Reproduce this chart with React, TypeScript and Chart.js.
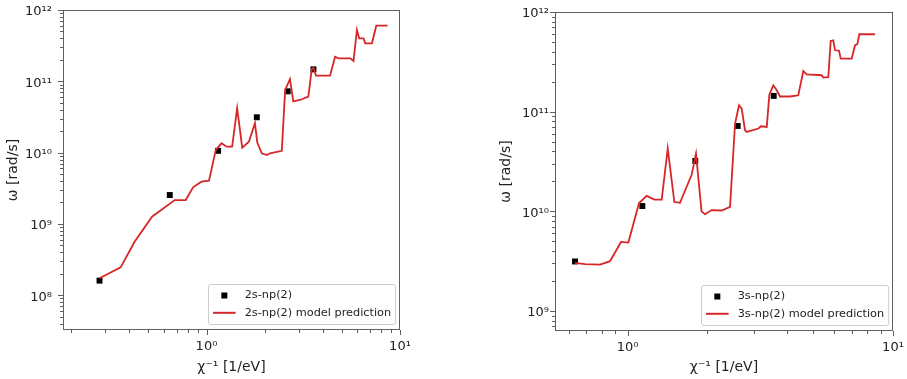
import React, { useEffect, useRef } from "react";
import { Chart, registerables } from "chart.js";

Chart.register(...registerables);

// ---------- data: left panel (2s-np(2)) ----------
const leftObsLabel = "2s-np(2)";
const leftPredLabel = "2s-np(2) model prediction";
const leftObsX = [0.28, 0.646, 1.148, 1.82, 2.63, 3.57];
const leftObsY = [1.6e8, 2.54e9, 1.06e10, 3.13e10, 7.24e10, 1.47e11];
const leftPredX = [
  0.28, 0.36, 0.425, 0.523, 0.685, 0.781, 0.852, 0.942, 1.03, 1.117, 1.196,
  1.27, 1.357, 1.44, 1.53, 1.656, 1.78, 1.83, 1.93, 2.05, 2.13, 2.45, 2.55,
  2.7, 2.81, 3.04, 3.36, 3.5, 3.57, 3.68, 4.35, 4.62, 4.81, 5.53, 5.75, 5.99,
  6.15, 6.48, 6.61, 7.16, 7.54, 8.62,
];
const leftPredY = [
  1.73e8, 2.46e8, 5.62e8, 1.26e9, 2.16e9, 2.16e9, 3.26e9, 3.91e9, 4.03e9,
  1.09e10, 1.35e10, 1.21e10, 1.21e10, 4.18e10, 1.17e10, 1.42e10, 2.58e10,
  1.38e10, 9.78e9, 9.26e9, 9.78e9, 1.06e10, 7.55e10, 1.07e11, 5.21e10,
  5.47e10, 6.08e10, 1.49e11, 1.55e11, 1.2e11, 1.2e11, 2.21e11, 2.1e11,
  2.1e11, 1.93e11, 5.24e11, 4.01e11, 4.01e11, 3.41e11, 3.41e11, 6.02e11,
  6.02e11,
];
const leftYTickValues = [1e8, 1e9, 1e10, 1e11, 1e12];
const leftYTickLabels = ["10⁸", "10⁹", "10¹⁰", "10¹¹", "10¹²"];

// ---------- data: right panel (3s-np(2)) ----------
const rightObsLabel = "3s-np(2)";
const rightPredLabel = "3s-np(2) model prediction";
const rightObsX = [0.634, 1.137, 1.8, 2.6, 3.553];
const rightObsY = [3.14e9, 1.13e10, 3.2e10, 7.19e10, 1.44e11];
const rightPredX = [
  0.634, 0.692, 0.788, 0.859, 0.945, 1.007, 1.105, 1.181, 1.262, 1.345, 1.417,
  1.501, 1.576, 1.745, 1.811, 1.9, 1.958, 2.075, 2.264, 2.433, 2.541, 2.63,
  2.692, 2.771, 2.812, 3.11, 3.183, 3.345, 3.421, 3.541, 3.648, 3.753, 4.093,
  4.398, 4.593, 4.731, 5.389, 5.464, 5.705, 5.825, 5.958, 6.047, 6.26, 6.353,
  6.99, 7.194, 7.338, 7.467, 8.554,
];
const rightPredY = [
  3.04e9, 2.95e9, 2.92e9, 3.16e9, 4.93e9, 4.86e9, 1.21e10, 1.43e10, 1.31e10,
  1.31e10, 4.26e10, 1.24e10, 1.22e10, 2.34e10, 3.8e10, 1.0e10, 9.35e9,
  1.03e10, 1.02e10, 1.11e10, 7.6e10, 1.16e11, 1.07e11, 6.5e10, 6.26e10,
  6.77e10, 7.14e10, 7.03e10, 1.48e11, 1.84e11, 1.64e11, 1.42e11, 1.42e11,
  1.46e11, 2.56e11, 2.37e11, 2.32e11, 2.2e11, 2.22e11, 5.12e11, 5.2e11,
  4.13e11, 4.1e11, 3.41e11, 3.41e11, 4.64e11, 4.75e11, 5.98e11, 5.98e11,
];
const rightYTickValues = [1e9, 1e10, 1e11, 1e12];
const rightYTickLabels = ["10⁹", "10¹⁰", "10¹¹", "10¹²"];

// ---------- shared ----------
const xTickValues = [1, 10];
const xTickLabels = ["10⁰", "10¹"];
const yTitle = "ω [rad/s]";
const xTitle = "χ⁻¹ [1/eV]";

const FONT = '"DejaVu Sans", "Noto Sans", sans-serif';
const AXIS_COLOR = "#5e5e5e";
const TEXT_COLOR = "#222222";
const LINE_COLOR = "#d62728";
const H = 379;

function minorTicks(min: number, max: number, majors: number[]) {
  const out: { value: number; major: boolean }[] = [];
  const d0 = Math.floor(Math.log10(min));
  const d1 = Math.ceil(Math.log10(max));
  for (let d = d0; d <= d1; d++) {
    for (let m = 1; m <= 9; m++) {
      const v = m * Math.pow(10, d);
      if (v >= min * 0.9999 && v <= max * 1.0001) {
        const isMajor = majors.some((t) => Math.abs(t - v) / t < 1e-6);
        out.push({ value: v, major: isMajor });
      }
    }
  }
  return out;
}

function labelFor(values: number[], labels: string[], v: number) {
  const i = values.findIndex((t) => Math.abs(t - v) / t < 1e-6);
  return i >= 0 ? labels[i] : "";
}

const decorPlugin = {
  id: "decor",
  afterDraw(chart: any) {
    const ctx = chart.ctx as CanvasRenderingContext2D;
    const a = chart.chartArea;
    ctx.save();
    ctx.strokeStyle = AXIS_COLOR;
    ctx.lineWidth = 1;
    // tick marks (outward)
    const xs = chart.scales.x;
    const ys = chart.scales.y;
    ctx.beginPath();
    for (const t of xs.ticks) {
      const p = Math.round(xs.getPixelForValue(t.value)) + 0.5;
      const len = t.major ? 5 : 3;
      ctx.moveTo(p, Math.round(a.bottom));
      ctx.lineTo(p, Math.round(a.bottom) + len);
    }
    for (const t of ys.ticks) {
      const p = Math.round(ys.getPixelForValue(t.value)) + 0.5;
      const len = t.major ? 5 : 3;
      ctx.moveTo(Math.round(a.left), p);
      ctx.lineTo(Math.round(a.left) - len, p);
    }
    ctx.stroke();
    // frame
    const l = Math.round(a.left) + 0.5;
    const tp = Math.round(a.top) + 0.5;
    const r = Math.round(a.right) - 0.5;
    const b = Math.round(a.bottom) - 0.5;
    ctx.strokeRect(l, tp, r - l, b - tp);

    // legend (lower right)
    const ds = chart.data.datasets;
    const obs = ds[0];
    const pred = ds[1];
    const fs = 11.3;
    ctx.font = `${fs}px ${FONT}`;
    const textW = Math.max(
      ctx.measureText(obs.label).width,
      ctx.measureText(pred.label).width
    );
    const pad = 0.4 * fs;
    const handleLen = 2 * fs;
    const textPad = 0.8 * fs;
    const W = pad + handleLen + textPad + textW + pad;
    const LH = 40;
    const x0 = Math.round(a.right - 5 - W) + 0.5;
    const y0 = Math.round(a.bottom - 6 - LH) + 0.5;
    ctx.beginPath();
    const rr = 2.5;
    ctx.moveTo(x0 + rr, y0);
    ctx.lineTo(x0 + W - rr, y0);
    ctx.arcTo(x0 + W, y0, x0 + W, y0 + rr, rr);
    ctx.lineTo(x0 + W, y0 + LH - rr);
    ctx.arcTo(x0 + W, y0 + LH, x0 + W - rr, y0 + LH, rr);
    ctx.lineTo(x0 + rr, y0 + LH);
    ctx.arcTo(x0, y0 + LH, x0, y0 + LH - rr, rr);
    ctx.lineTo(x0, y0 + rr);
    ctx.arcTo(x0, y0, x0 + rr, y0, rr);
    ctx.closePath();
    ctx.fillStyle = "rgba(255,255,255,0.8)";
    ctx.fill();
    ctx.strokeStyle = "#cccccc";
    ctx.stroke();

    const row1 = y0 + 11;
    const row2 = y0 + 28.3;
    const hx = x0 + pad;
    // marker
    ctx.fillStyle = obs.backgroundColor;
    ctx.fillRect(hx + handleLen / 2 - 3, row1 - 3, 6, 6);
    // line sample
    ctx.strokeStyle = pred.borderColor;
    ctx.lineWidth = 2;
    ctx.beginPath();
    ctx.moveTo(hx, row2);
    ctx.lineTo(hx + handleLen, row2);
    ctx.stroke();
    // texts
    ctx.fillStyle = TEXT_COLOR;
    ctx.textBaseline = "middle";
    ctx.textAlign = "left";
    const tx = hx + handleLen + textPad;
    ctx.fillText(obs.label, tx, row1);
    ctx.fillText(pred.label, tx, row2);
    ctx.restore();
  },
};

type PanelSpec = {
  obsLabel: string;
  predLabel: string;
  obsX: number[];
  obsY: number[];
  predX: number[];
  predY: number[];
  yTickValues: number[];
  yTickLabels: string[];
  xMin: number;
  xMax: number;
  yMin: number;
  yMax: number;
  width: number;
  areaLeft: number;
  areaRight: number;
  areaTop: number;
  areaBottom: number;
  yTickPad: number;
  yTitleOffset: number;
};

function buildConfig(s: PanelSpec): any {
  const toPts = (xs: number[], ys: number[]) =>
    xs.map((x, i) => ({ x, y: ys[i] }));
  return {
    type: "scatter",
    data: {
      datasets: [
        {
          label: s.obsLabel,
          data: toPts(s.obsX, s.obsY),
          pointStyle: "rect",
          pointRadius: 4.2,
          pointBorderWidth: 0,
          borderWidth: 0,
          backgroundColor: "#000000",
          borderColor: "#000000",
          showLine: false,
          order: 2,
        },
        {
          label: s.predLabel,
          data: toPts(s.predX, s.predY),
          showLine: true,
          pointRadius: 0,
          borderWidth: 1.8,
          borderColor: LINE_COLOR,
          backgroundColor: LINE_COLOR,
          tension: 0,
          order: 1,
        },
      ],
    },
    options: {
      responsive: false,
      maintainAspectRatio: false,
      devicePixelRatio: 1,
      animation: false,
      events: [],
      layout: {
        padding: {
          left: 0,
          top: s.areaTop,
          right: s.width - s.areaRight,
          bottom: 0,
        },
      },
      plugins: {
        legend: { display: false },
        tooltip: { enabled: false },
        title: { display: false },
      },
      scales: {
        x: {
          type: "logarithmic",
          position: "bottom",
          min: s.xMin,
          max: s.xMax,
          bounds: "data",
          grid: { display: false, drawTicks: false, drawOnChartArea: false },
          border: { display: false },
          afterBuildTicks: (sc: any) => {
            sc.ticks = minorTicks(s.xMin, s.xMax, xTickValues);
          },
          afterFit: (sc: any) => {
            sc.height = H - s.areaBottom;
            sc.paddingLeft = 0;
            sc.paddingRight = 0;
          },
          ticks: {
            autoSkip: false,
            maxRotation: 0,
            minRotation: 0,
            padding: 9,
            color: TEXT_COLOR,
            font: { family: FONT, size: 13 },
            callback: (v: number) => labelFor(xTickValues, xTickLabels, v),
          },
          title: {
            display: true,
            text: xTitle,
            color: TEXT_COLOR,
            font: { family: FONT, size: 14 },
            padding: { top: 0, bottom: 3.6 },
          },
        },
        y: {
          type: "logarithmic",
          position: "left",
          min: s.yMin,
          max: s.yMax,
          bounds: "data",
          grid: { display: false, drawTicks: false, drawOnChartArea: false },
          border: { display: false },
          afterBuildTicks: (sc: any) => {
            sc.ticks = minorTicks(s.yMin, s.yMax, s.yTickValues);
          },
          afterFit: (sc: any) => {
            sc.width = s.areaLeft;
            sc.paddingTop = 0;
            sc.paddingBottom = 0;
          },
          ticks: {
            autoSkip: false,
            padding: s.yTickPad,
            labelOffset: 2,
            color: TEXT_COLOR,
            font: { family: FONT, size: 13 },
            callback: (v: number) => labelFor(s.yTickValues, s.yTickLabels, v),
          },
          title: {
            display: true,
            text: yTitle,
            color: TEXT_COLOR,
            font: { family: FONT, size: 14 },
            padding: { top: s.yTitleOffset, bottom: 0 },
          },
        },
      },
    },
    plugins: [decorPlugin],
  };
}

function Panel({ spec, left }: { spec: PanelSpec; left: number }) {
  const ref = useRef<HTMLCanvasElement>(null);
  useEffect(() => {
    if (!ref.current) return;
    const chart = new Chart(ref.current, buildConfig(spec));
    return () => chart.destroy();
  }, []);
  return (
    <canvas
      ref={ref}
      width={spec.width}
      height={H}
      style={{
        position: "absolute",
        left,
        top: 0,
        width: spec.width,
        height: H,
      }}
    />
  );
}

const leftSpec: PanelSpec = {
  obsLabel: leftObsLabel,
  predLabel: leftPredLabel,
  obsX: leftObsX,
  obsY: leftObsY,
  predX: leftPredX,
  predY: leftPredY,
  yTickValues: leftYTickValues,
  yTickLabels: leftYTickLabels,
  xMin: 0.1813,
  xMax: 10,
  yMin: 3.25e7,
  yMax: 1e12,
  width: 450,
  areaLeft: 63,
  areaRight: 400,
  areaTop: 10,
  areaBottom: 330,
  yTickPad: 11,
  yTitleOffset: 4.6,
};

const rightSpec: PanelSpec = {
  obsLabel: rightObsLabel,
  predLabel: rightPredLabel,
  obsX: rightObsX,
  obsY: rightObsY,
  predX: rightPredX,
  predY: rightPredY,
  yTickValues: rightYTickValues,
  yTickLabels: rightYTickLabels,
  xMin: 0.533,
  xMax: 10,
  yMin: 6.3e8,
  yMax: 1e12,
  width: 452,
  areaLeft: 100,
  areaRight: 438,
  areaTop: 12,
  areaBottom: 331,
  yTickPad: 6,
  yTitleOffset: 43.3,
};

export default function App() {
  return (
    <div
      style={{
        position: "absolute",
        left: 0,
        top: 0,
        width: 907,
        height: H,
        background: "#ffffff",
        overflow: "hidden",
      }}
    >
      <Panel spec={leftSpec} left={0} />
      <Panel spec={rightSpec} left={455} />
    </div>
  );
}
